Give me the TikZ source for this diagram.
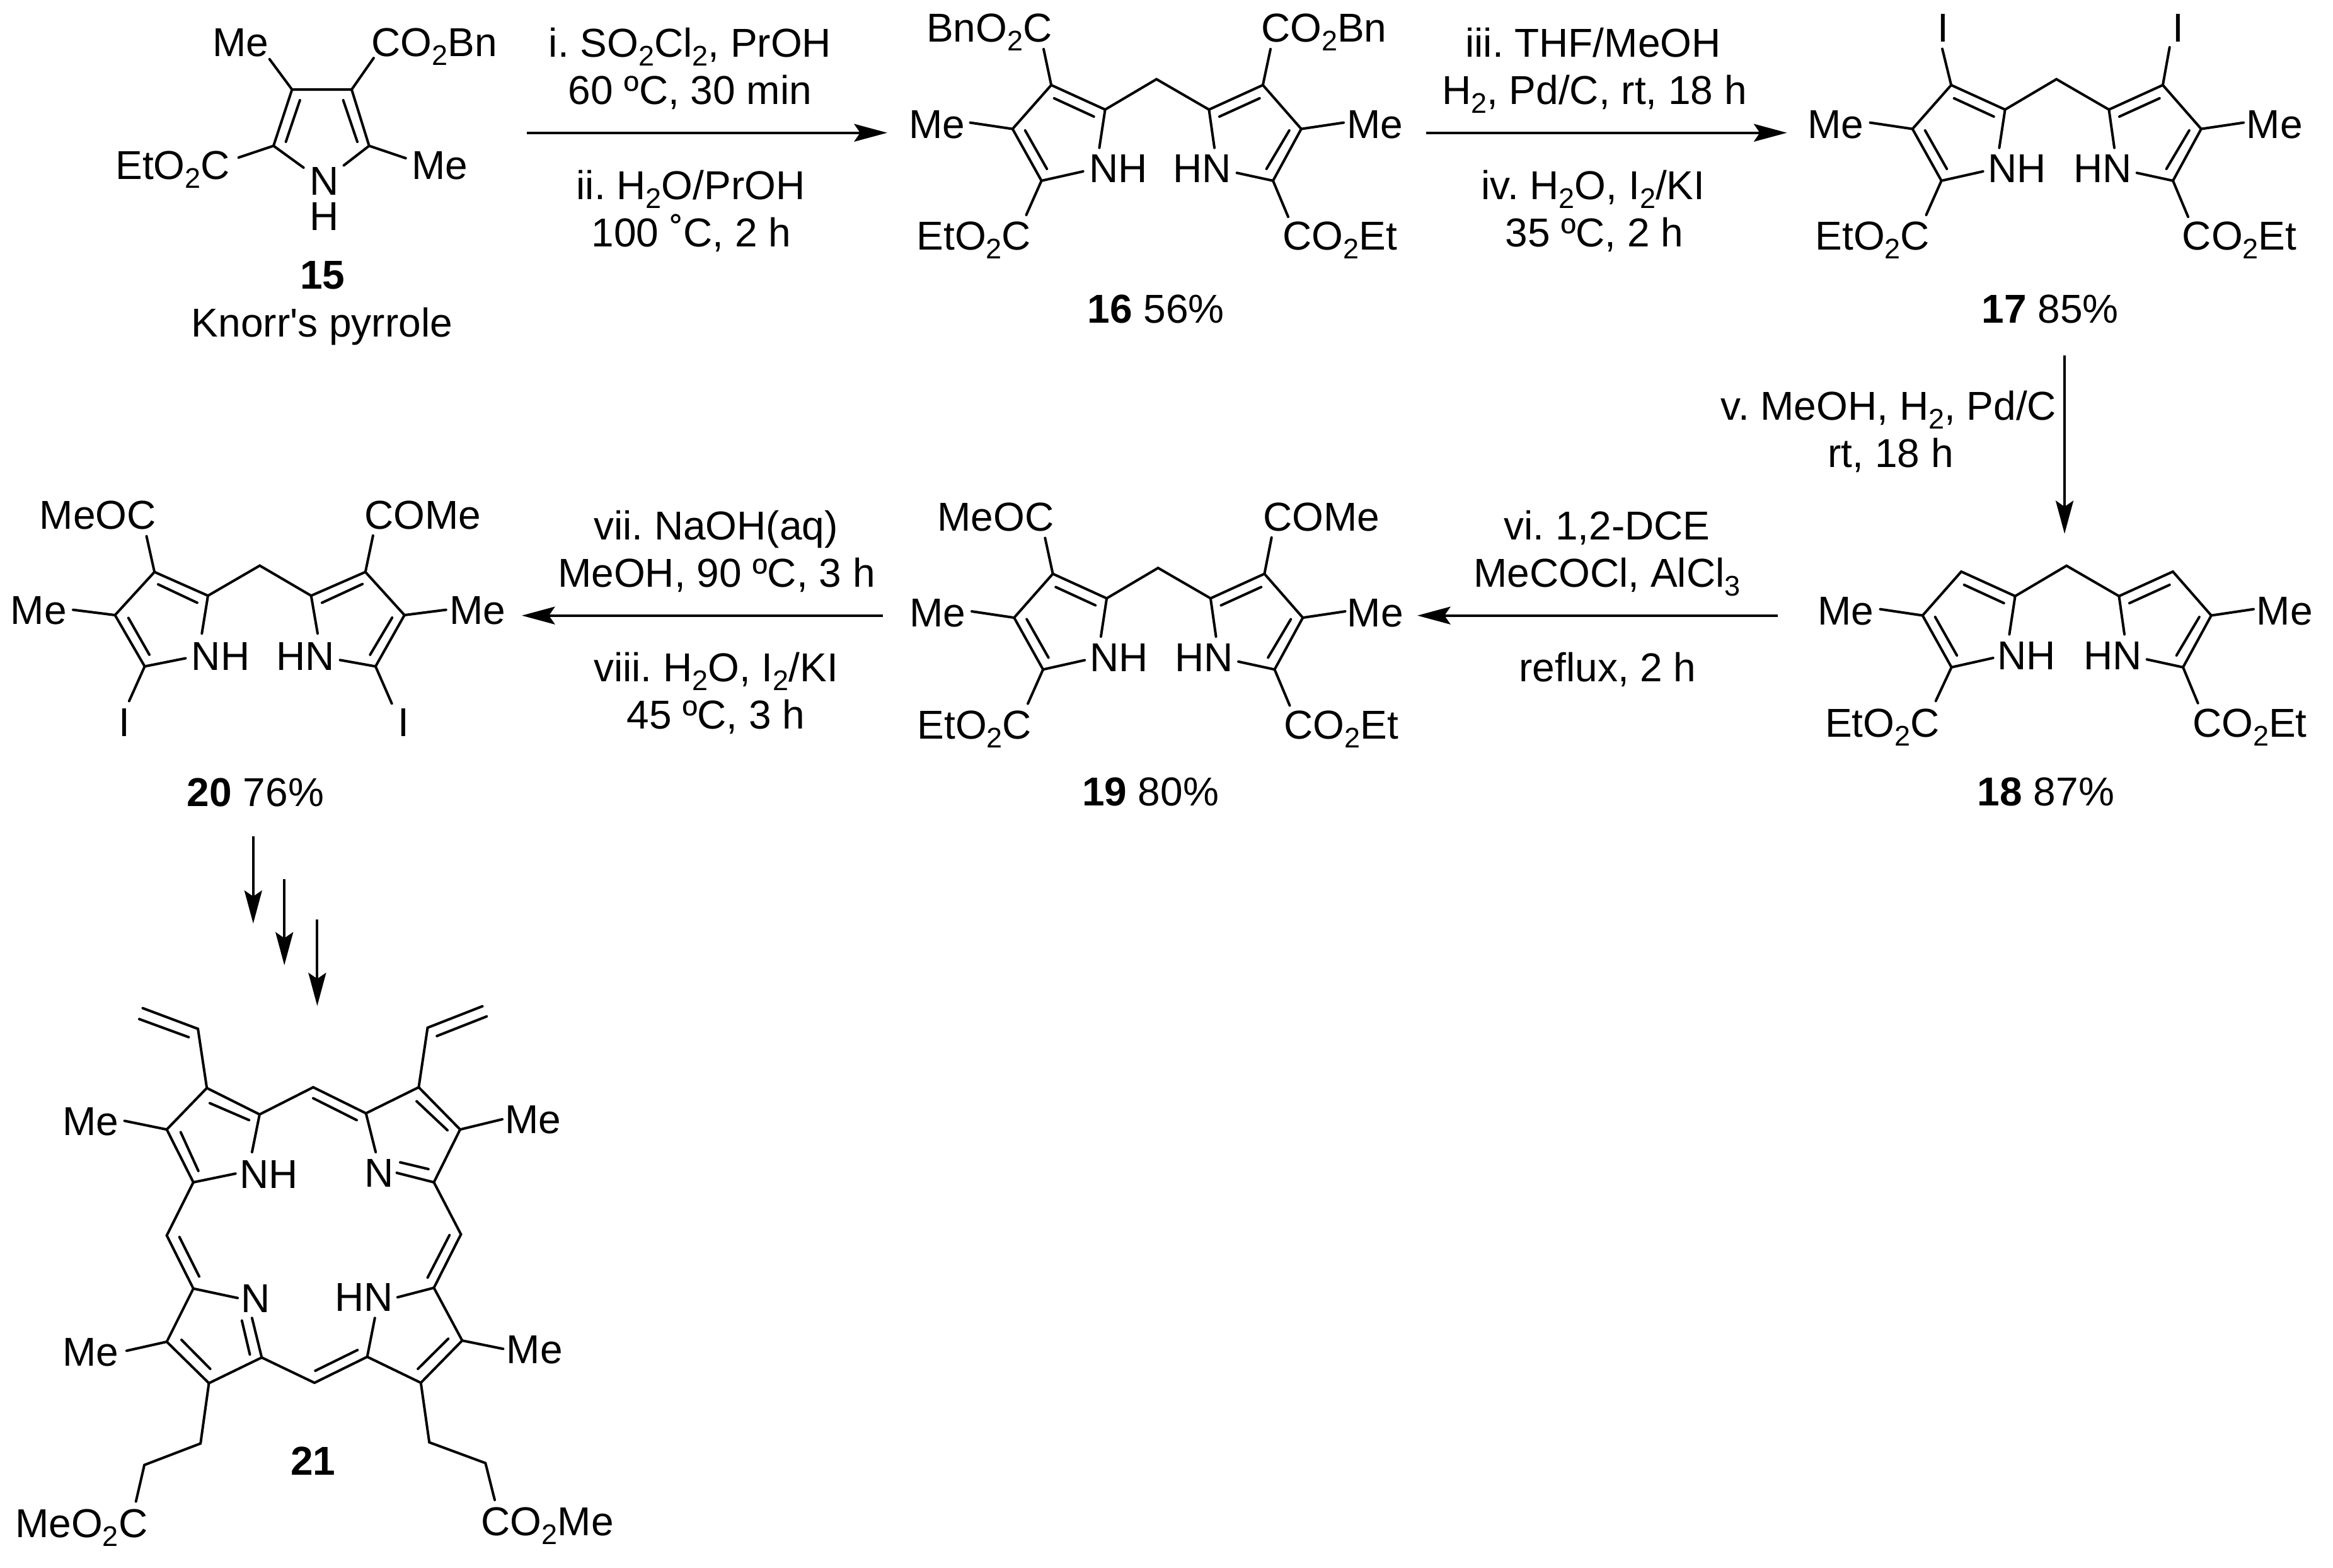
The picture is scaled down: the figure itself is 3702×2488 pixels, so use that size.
\documentclass[tikz,border=0pt]{standalone}
\usepackage{fontspec}
\setmainfont{Liberation Sans}
\usetikzlibrary{arrows.meta}
\newcommand{\sbs}[1]{\raisebox{-2.8pt}{\fontsize{9}{9}\selectfont #1}}
\tikzset{
  bond/.style={draw=black,line width=0.8pt,line cap=round,line join=miter},
  rxn/.style={draw=black,line width=0.8pt,-{Stealth[length=10.5pt,width=5.6pt,inset=1.9pt]}},
  txt/.style={inner sep=0pt,outer sep=0pt,font=\fontsize{12.8}{15}\selectfont\frenchspacing},
  lab/.style={txt,anchor=base west,xshift=-0.9pt},
  labc/.style={txt,anchor=base}
}
\newcommand{\stub}[3]{\coordinate (e#1) at (#2,#3); \draw[bond] (#1) -- (e#1);}
\newcommand{\dimer}[3]{%
 \begin{scope}[shift={(#2,#3)}]
  \coordinate (#1A) at (1835.1,125.7);
  \coordinate (#1aL) at (1753.6,173.9); \coordinate (#1aR) at (1918.4,173.9);
  \coordinate (#1bL) at (1668.1,135);   \coordinate (#1bR) at (2003.9,135);
  \coordinate (#1gL) at (1606.7,204.6); \coordinate (#1gR) at (2064.8,204.6);
  \coordinate (#1dL) at (1652.6,286.8); \coordinate (#1dR) at (2020,286.8);
  \coordinate (#1nL) at (1744.4,234.6); \coordinate (#1nR) at (1927,234.6);
  \coordinate (#1mL) at (1718.6,272);   \coordinate (#1mR) at (1962.6,274.3);
  \coordinate (#1i1) at (1672.7,156);   \coordinate (#1i2) at (1735.8,185);
  \coordinate (#1i3) at (1998.7,156);   \coordinate (#1i4) at (1935,185);
  \coordinate (#1i5) at (1626.7,207);   \coordinate (#1i6) at (1661.2,268);
  \coordinate (#1i7) at (2045.8,207);   \coordinate (#1i8) at (2009.6,268);
 \end{scope}
 \draw[bond] (#1nL) -- (#1aL) -- (#1A) -- (#1aR) -- (#1nR);
 \draw[bond] (#1aL) -- (#1bL) -- (#1gL) -- (#1dL) -- (#1mL);
 \draw[bond] (#1aR) -- (#1bR) -- (#1gR) -- (#1dR) -- (#1mR);
 \draw[bond] (#1i1) -- (#1i2);
 \draw[bond] (#1i3) -- (#1i4);
 \draw[bond] (#1i5) -- (#1i6);
 \draw[bond] (#1i7) -- (#1i8);
}
\begin{document}
\begin{tikzpicture}[x=0.2pt,y=-0.2pt]
\fill[white] (0,0) rectangle (3702,2488);
\useasboundingbox (0,0) rectangle (3702,2488);

% ---------- 15
\coordinate (oC3) at (463.4,142.1); \coordinate (oC4) at (558,142.1);
\coordinate (oC2) at (434,231.4);   \coordinate (oC5) at (585.7,231.4);
\coordinate (oN1) at (481.7,266);   \coordinate (oN2) at (545.5,262.5);
\coordinate (oi1) at (475.9,159);   \coordinate (oi2) at (453.6,225);
\coordinate (oi3) at (544.6,159);   \coordinate (oi4) at (567,225);
\draw[bond] (oN1) -- (oC2) -- (oC3) -- (oC4) -- (oC5) -- (oN2);
\draw[bond] (oi1) -- (oi2);
\draw[bond] (oi3) -- (oi4);
\stub{oC3}{427.7}{93.9}
\stub{oC4}{592.9}{92.1}
\stub{oC2}{378.6}{250}
\stub{oC5}{643.7}{251}
\node[lab] (t15a) at (342,89.3) {Me};
\node[lab] (t15b) at (594,89.3) {CO\sbs{2}Bn};
\node[lab] (t15c) at (188,284.6) {EtO\sbs{2}C};
\node[lab] (t15d) at (658,284.6) {Me};
\node[labc] (t15e) at (515,310) {N};
\node[labc] (t15f) at (515,365.4) {H};
\node[labc] (t15g) at (511.6,459) {\textbf{15}};
\node[labc] (t15h) at (511,534.6) {Knorr\textquotesingle s pyrrole};

% ---------- 16
\dimer{p}{0}{0}
\stub{pbL}{1656}{77.9}
\stub{pbR}{2016}{77.9}
\stub{pgL}{1539.5}{194.6}
\stub{pgR}{2132}{194.6}
\stub{pdL}{1628.5}{341}
\stub{pdR}{2044}{344}
\node[lab] (t16a) at (1474.6,67) {BnO\sbs{2}C};
\node[lab] (t16b) at (2005.6,67) {CO\sbs{2}Bn};
\node[lab] (t16c) at (1447,219.3) {Me};
\node[lab] (t16d) at (2141.7,219.3) {Me};
\node[lab] (t16e) at (1733,290) {NH};
\node[lab] (t16f) at (1866,290) {HN};
\node[lab] (t16g) at (1459,397) {EtO\sbs{2}C};
\node[lab] (t16h) at (2040,397) {CO\sbs{2}Et};
\node[lab] (t16i) at (1730,512.5) {\textbf{16} 56\%};

% ---------- 17
\dimer{q}{1428}{0}
\stub{qbL}{3082}{77.5}
\stub{qbR}{3442.7}{75}
\stub{qgL}{2967.5}{194.6}
\stub{qgR}{3560}{194.6}
\stub{qdL}{3056.5}{341}
\stub{qdR}{3472}{344}
\node[labc] (t17a) at (3083,67) {I};
\node[labc] (t17b) at (3456,67) {I};
\node[lab] (t17c) at (2873,219.3) {Me};
\node[lab] (t17d) at (3569.3,219.3) {Me};
\node[lab] (t17e) at (3159,290) {NH};
\node[lab] (t17f) at (3294.8,290) {HN};
\node[lab] (t17g) at (2885,397) {EtO\sbs{2}C};
\node[lab] (t17h) at (3467.4,397) {CO\sbs{2}Et};
\node[lab] (t17i) at (3149,512.5) {\textbf{17} 85\%};

% ---------- 18
\dimer{r}{1444}{772}
\stub{rgL}{2983.5}{966.6}
\stub{rgR}{3576}{966.6}
\stub{rdL}{3071.6}{1112.3}
\stub{rdR}{3487.6}{1115.7}
\node[lab] (t18a) at (2889,991) {Me};
\node[lab] (t18b) at (3585.4,991) {Me};
\node[lab] (t18c) at (3174,1062.4) {NH};
\node[lab] (t18d) at (3311,1062.4) {HN};
\node[lab] (t18e) at (2900.7,1169) {EtO\sbs{2}C};
\node[lab] (t18f) at (3483.5,1169) {CO\sbs{2}Et};
\node[lab] (t18g) at (3142.4,1278.3) {\textbf{18} 87\%};

% ---------- 19
\dimer{s}{2.5}{775.5}
\stub{sbL}{1658.3}{853.6}
\stub{sbR}{2017.7}{852.9}
\stub{sgL}{1542}{970.1}
\stub{sgR}{2134.5}{970.1}
\stub{sdL}{1631}{1116.5}
\stub{sdR}{2046.5}{1119.5}
\node[lab] (t19a) at (1491.8,842.9) {MeOC};
\node[lab] (t19b) at (2008.5,842.9) {COMe};
\node[lab] (t19c) at (1447.5,994.7) {Me};
\node[lab] (t19d) at (2142.3,994.7) {Me};
\node[lab] (t19e) at (1734,1065.4) {NH};
\node[lab] (t19f) at (1869,1065.4) {HN};
\node[lab] (t19g) at (1460,1172.5) {EtO\sbs{2}C};
\node[lab] (t19h) at (2041.8,1172.5) {CO\sbs{2}Et};
\node[lab] (t19i) at (1721.5,1278.6) {\textbf{19} 80\%};

% ---------- 20
\coordinate (uA) at (412.2,897.5);
\coordinate (uaL) at (330,945.2);    \coordinate (uaR) at (493.7,945.2);
\coordinate (ubL) at (245.1,907.6);  \coordinate (ubR) at (579.8,907.6);
\coordinate (ugL) at (182.5,976);    \coordinate (ugR) at (641.8,976);
\coordinate (udL) at (229.6,1057.4); \coordinate (udR) at (595.9,1057.4);
\coordinate (unL) at (320.3,1005.2); \coordinate (unR) at (504,1005.2);
\coordinate (umL) at (294.5,1044.5); \coordinate (umR) at (539.6,1047.3);
\coordinate (ui1) at (250.9,927.2);  \coordinate (ui2) at (312.9,956.4);
\coordinate (ui3) at (575.2,926.7);  \coordinate (ui4) at (510.9,956.4);
\coordinate (ui5) at (203.8,980.5);  \coordinate (ui6) at (237,1038.9);
\coordinate (ui7) at (622.3,980);    \coordinate (ui8) at (587.3,1038.9);
\draw[bond] (unL) -- (uaL) -- (uA) -- (uaR) -- (unR);
\draw[bond] (uaL) -- (ubL) -- (ugL) -- (udL) -- (umL);
\draw[bond] (uaR) -- (ubR) -- (ugR) -- (udR) -- (umR);
\draw[bond] (ui1) -- (ui2);
\draw[bond] (ui3) -- (ui4);
\draw[bond] (ui5) -- (ui6);
\draw[bond] (ui7) -- (ui8);
\stub{ubL}{232.5}{850.9}
\stub{ubR}{591.9}{849.8}
\stub{ugL}{116}{967.6}
\stub{ugR}{707.8}{967.6}
\stub{udL}{204.9}{1112.4}
\stub{udR}{621.7}{1116.3}
\node[lab] (t20a) at (67.2,839.7) {MeOC};
\node[lab] (t20b) at (582.7,839.7) {COMe};
\node[lab] (t20c) at (21.2,990) {Me};
\node[lab] (t20d) at (717.6,990) {Me};
\node[lab] (t20e) at (308.3,1063) {NH};
\node[lab] (t20f) at (443.2,1063) {HN};
\node[labc] (t20g) at (196.9,1168) {I};
\node[labc] (t20h) at (640,1168) {I};
\node[lab] (t20i) at (301.4,1279) {\textbf{20} 76\%};

% ---------- 21
% ring A
\coordinate (Ab1) at (328.2,1726.4); \coordinate (Ab2) at (264.6,1792.2);
\coordinate (Aa1) at (411.9,1768.3); \coordinate (Aa2) at (306.8,1876);
\coordinate (An1) at (399.9,1828.1); \coordinate (An2) at (373.7,1862.2);
\coordinate (Ai1) at (332.9,1750.4); \coordinate (Ai2) at (395.2,1777.3);
\coordinate (Ai3) at (286.7,1796.4); \coordinate (Ai4) at (314.8,1858);
\draw[bond] (An1) -- (Aa1) -- (Ab1) -- (Ab2) -- (Aa2) -- (An2);
\draw[bond] (Ai1) -- (Ai2);
\draw[bond] (Ai3) -- (Ai4);
% ring B
\coordinate (Ba1) at (580.7,1766.5); \coordinate (Bb1) at (664.4,1725.2);
\coordinate (Bb2) at (730.1,1792.2); \coordinate (Ba2) at (688.5,1876);
\coordinate (Bn1) at (596.1,1828.1); \coordinate (Bn2) at (629.6,1861);
\coordinate (Bi1) at (661.1,1747.4); \coordinate (Bi2) at (710,1793.4);
\coordinate (Bi3) at (635,1844.3);   \coordinate (Bi4) at (679.8,1855);
\draw[bond] (Bn1) -- (Ba1) -- (Bb1) -- (Bb2) -- (Ba2) -- (Bn2);
\draw[bond] (Bi1) -- (Bi2);
\draw[bond] (Bi3) -- (Bi4);
% ring C
\coordinate (Ca1) at (306.8,2044.6); \coordinate (Cb1) at (264.6,2129);
\coordinate (Cb2) at (331.5,2194.7); \coordinate (Ca2) at (415.3,2154);
\coordinate (Cn1) at (377.1,2059.6); \coordinate (Cn2) at (399.9,2091.3);
\coordinate (Ci1) at (288,2126);     \coordinate (Ci2) at (333.6,2172);
\coordinate (Ci3) at (383.8,2095.4); \coordinate (Ci4) at (396.5,2149.3);
\draw[bond] (Cn1) -- (Ca1) -- (Cb1) -- (Cb2) -- (Ca2) -- (Cn2);
\draw[bond] (Ci1) -- (Ci2);
\draw[bond] (Ci3) -- (Ci4);
% ring D
\coordinate (Da1) at (688.5,2043.4); \coordinate (Db1) at (733.4,2127.1);
\coordinate (Db2) at (667.8,2194.1); \coordinate (Da2) at (582.7,2152.9);
\coordinate (Dn1) at (630.9,2058.4); \coordinate (Dn2) at (594.8,2091.3);
\coordinate (Di1) at (711.3,2124.2); \coordinate (Di2) at (663.1,2172);
\draw[bond] (Dn1) -- (Da1) -- (Db1) -- (Db2) -- (Da2) -- (Dn2);
\draw[bond] (Di1) -- (Di2);
% meso bridges
\coordinate (Mt) at (497,1725.2);    \coordinate (Mti1) at (497,1742.6);   \coordinate (Mti2) at (566,1777.3);
\coordinate (Ml) at (264.6,1960.3);  \coordinate (Mli1) at (284.7,1962.7); \coordinate (Mli2) at (316.1,2025.5);
\coordinate (Mr) at (731.4,1958.5);  \coordinate (Mri1) at (713.3,1959.7); \coordinate (Mri2) at (678.5,2027.3);
\coordinate (Mb) at (499,2194.1);    \coordinate (Mbi1) at (500.3,2175);   \coordinate (Mbi2) at (567.3,2142.1);
\draw[bond] (Aa1) -- (Mt) -- (Ba1);
\draw[bond] (Mti1) -- (Mti2);
\draw[bond] (Aa2) -- (Ml) -- (Ca1);
\draw[bond] (Mli1) -- (Mli2);
\draw[bond] (Ba2) -- (Mr) -- (Da1);
\draw[bond] (Mri1) -- (Mri2);
\draw[bond] (Ca2) -- (Mb) -- (Da2);
\draw[bond] (Mbi1) -- (Mbi2);
% vinyls
\coordinate (VLa) at (314.1,1632.5); \coordinate (VLb) at (226.4,1599.6);
\coordinate (VLc) at (221,1617);     \coordinate (VLd) at (299.4,1645.7);
\coordinate (VRa) at (678.5,1630.7); \coordinate (VRb) at (765.6,1596.6);
\coordinate (VRc) at (772.3,1612.8); \coordinate (VRd) at (693.2,1643.9);
\draw[bond] (Ab1) -- (VLa) -- (VLb);
\draw[bond] (VLc) -- (VLd);
\draw[bond] (Bb1) -- (VRa) -- (VRb);
\draw[bond] (VRc) -- (VRd);
% methyls
\stub{Ab2}{197.6}{1778.5}
\stub{Bb2}{797}{1776}
\stub{Cb1}{200.9}{2143.3}
\stub{Db1}{798.4}{2140.3}
% propionates
\coordinate (PLa) at (318.2,2290.4); \coordinate (PLb) at (229.1,2324.5); \coordinate (PLc) at (215.7,2382.5);
\coordinate (PRa) at (681.2,2288.6); \coordinate (PRb) at (770.3,2321.5); \coordinate (PRc) at (785,2380);
\draw[bond] (Cb2) -- (PLa) -- (PLb) -- (PLc);
\draw[bond] (Db2) -- (PRa) -- (PRb) -- (PRc);
\node[lab] (t21a) at (103.8,1801.2) {Me};
\node[lab] (t21b) at (805.8,1798.8) {Me};
\node[lab] (t21c) at (103.8,2167.2) {Me};
\node[lab] (t21d) at (808.4,2163) {Me};
\node[lab] (t21e) at (385.1,1885) {NH};
\node[lab] (t21f) at (582.7,1883.7) {N};
\node[lab] (t21g) at (387.1,2082.3) {N};
\node[lab] (t21h) at (535.8,2080.5) {HN};
\node[lab] (t21i) at (28.8,2439.4) {MeO\sbs{2}C};
\node[lab] (t21j) at (768.2,2436.3) {CO\sbs{2}Me};
\node[labc] (t21k) at (497,2340.7) {\textbf{21}};

% ---------- arrows
\coordinate (a1s) at (835.7,210.7);  \coordinate (a1e) at (1407.9,210.7);
\coordinate (a2s) at (2263.4,210.7); \coordinate (a2e) at (2835.5,210.7);
\coordinate (a3s) at (3276,564);     \coordinate (a3e) at (3276,847);
\coordinate (a4s) at (2821,976.7);   \coordinate (a4e) at (2249,976.7);
\coordinate (a5s) at (1400.5,976.7); \coordinate (a5e) at (828,976.7);
\coordinate (a6s) at (401.8,1326.8); \coordinate (a6e) at (401.8,1465.4);
\coordinate (a7s) at (451.2,1395.2); \coordinate (a7e) at (451.2,1531.6);
\coordinate (a8s) at (503.4,1458.6); \coordinate (a8e) at (503.4,1596.1);
\draw[rxn] (a1s) -- (a1e);
\draw[rxn] (a2s) -- (a2e);
\draw[rxn] (a3s) -- (a3e);
\draw[rxn] (a4s) -- (a4e);
\draw[rxn] (a5s) -- (a5e);
\draw[rxn] (a6s) -- (a6e);
\draw[rxn] (a7s) -- (a7e);
\draw[rxn] (a8s) -- (a8e);

% ---------- reagents
\node[labc] (r1) at (1095,90.7) {i. SO\sbs{2}Cl\sbs{2}, PrOH};
\node[labc] (r2) at (1095,165.7) {60 ºC, 30 min};
\node[labc] (r3) at (1096,316.7) {ii. H\sbs{2}O/PrOH};
\node[labc] (r4) at (1097,391.7) {100 ˚C, 2 h};
\node[labc] (r5) at (2528,90.7) {iii. THF/MeOH};
\node[labc] (r6) at (2530,165.7) {H\sbs{2}, Pd/C, rt, 18 h};
\node[labc] (r7) at (2528,316.7) {iv. H\sbs{2}O, I\sbs{2}/KI};
\node[labc] (r8) at (2530,391.7) {35 ºC, 2 h};
\node[labc] (r9) at (2997,666.7) {v. MeOH, H\sbs{2}, Pd/C};
\node[labc] (r10) at (3000,741.7) {rt, 18 h};
\node[labc] (r11) at (2550,856.7) {vi. 1,2-DCE};
\node[labc] (r12) at (2550,931.7) {MeCOCl, AlCl\sbs{3}};
\node[labc] (r13) at (2551,1081.7) {reflux, 2 h};
\node[labc] (r14) at (1136,856.7) {vii. NaOH(aq)};
\node[labc] (r15) at (1137,931.7) {MeOH, 90 ºC, 3 h};
\node[labc] (r16) at (1136,1081.7) {viii. H\sbs{2}O, I\sbs{2}/KI};
\node[labc] (r17) at (1136,1156.7) {45 ºC, 3 h};
\end{tikzpicture}
\end{document}
